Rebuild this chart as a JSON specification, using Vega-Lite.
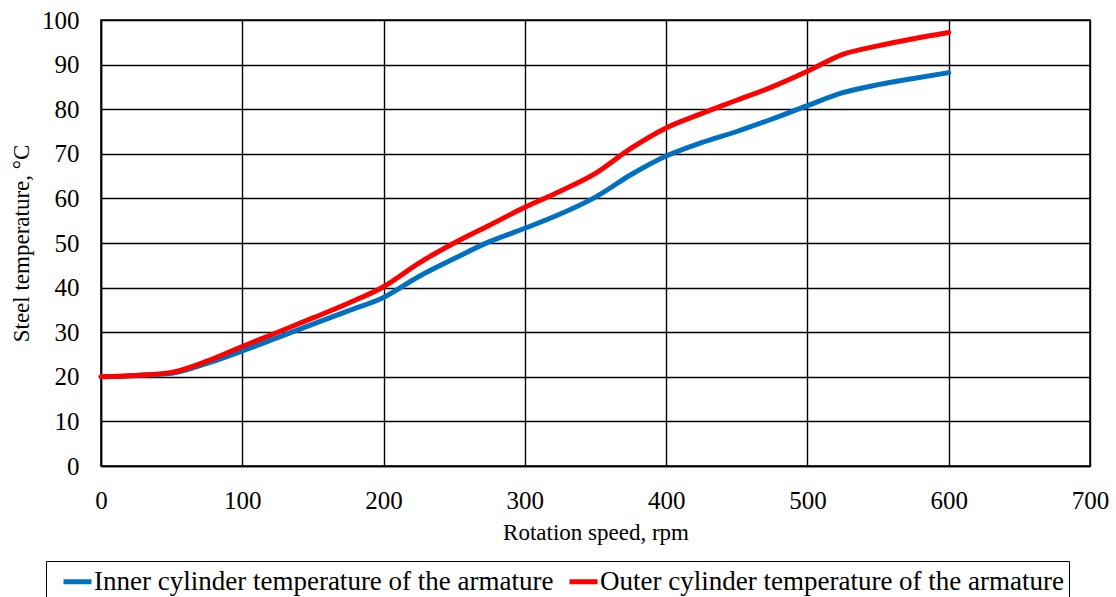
{
  "$schema": "https://vega.github.io/schema/vega-lite/v6.json",
  "width": 989,
  "height": 446,
  "autosize": {"type": "none"},
  "padding": {"left": 101, "top": 20, "right": 26, "bottom": 131},
  "background": "white",
  "config": {
    "font": "Liberation Serif",
    "view": {"stroke": "black", "strokeWidth": 1.5}
  },
  "data": {
    "values": [
      {"rpm": 0, "t": 20, "s": "Inner cylinder temperature of the armature"},
      {"rpm": 25, "t": 20.3, "s": "Inner cylinder temperature of the armature"},
      {"rpm": 50, "t": 20.8, "s": "Inner cylinder temperature of the armature"},
      {"rpm": 75, "t": 23, "s": "Inner cylinder temperature of the armature"},
      {"rpm": 100, "t": 25.8, "s": "Inner cylinder temperature of the armature"},
      {"rpm": 125, "t": 28.8, "s": "Inner cylinder temperature of the armature"},
      {"rpm": 150, "t": 31.8, "s": "Inner cylinder temperature of the armature"},
      {"rpm": 175, "t": 34.8, "s": "Inner cylinder temperature of the armature"},
      {"rpm": 200, "t": 37.8, "s": "Inner cylinder temperature of the armature"},
      {"rpm": 225, "t": 42.5, "s": "Inner cylinder temperature of the armature"},
      {"rpm": 250, "t": 46.5, "s": "Inner cylinder temperature of the armature"},
      {"rpm": 275, "t": 50.3, "s": "Inner cylinder temperature of the armature"},
      {"rpm": 300, "t": 53.3, "s": "Inner cylinder temperature of the armature"},
      {"rpm": 325, "t": 56.5, "s": "Inner cylinder temperature of the armature"},
      {"rpm": 350, "t": 60.3, "s": "Inner cylinder temperature of the armature"},
      {"rpm": 375, "t": 65.3, "s": "Inner cylinder temperature of the armature"},
      {"rpm": 400, "t": 69.5, "s": "Inner cylinder temperature of the armature"},
      {"rpm": 425, "t": 72.5, "s": "Inner cylinder temperature of the armature"},
      {"rpm": 450, "t": 75, "s": "Inner cylinder temperature of the armature"},
      {"rpm": 475, "t": 77.8, "s": "Inner cylinder temperature of the armature"},
      {"rpm": 500, "t": 80.8, "s": "Inner cylinder temperature of the armature"},
      {"rpm": 525, "t": 83.7, "s": "Inner cylinder temperature of the armature"},
      {"rpm": 550, "t": 85.5, "s": "Inner cylinder temperature of the armature"},
      {"rpm": 575, "t": 86.9, "s": "Inner cylinder temperature of the armature"},
      {"rpm": 600, "t": 88.2, "s": "Inner cylinder temperature of the armature"},
      {"rpm": 0, "t": 20, "s": "Outer cylinder temperature of the armature"},
      {"rpm": 25, "t": 20.3, "s": "Outer cylinder temperature of the armature"},
      {"rpm": 50, "t": 21, "s": "Outer cylinder temperature of the armature"},
      {"rpm": 75, "t": 23.5, "s": "Outer cylinder temperature of the armature"},
      {"rpm": 100, "t": 26.8, "s": "Outer cylinder temperature of the armature"},
      {"rpm": 125, "t": 30, "s": "Outer cylinder temperature of the armature"},
      {"rpm": 150, "t": 33.2, "s": "Outer cylinder temperature of the armature"},
      {"rpm": 175, "t": 36.5, "s": "Outer cylinder temperature of the armature"},
      {"rpm": 200, "t": 40.2, "s": "Outer cylinder temperature of the armature"},
      {"rpm": 225, "t": 45.5, "s": "Outer cylinder temperature of the armature"},
      {"rpm": 250, "t": 50, "s": "Outer cylinder temperature of the armature"},
      {"rpm": 275, "t": 54, "s": "Outer cylinder temperature of the armature"},
      {"rpm": 300, "t": 58, "s": "Outer cylinder temperature of the armature"},
      {"rpm": 325, "t": 61.6, "s": "Outer cylinder temperature of the armature"},
      {"rpm": 350, "t": 65.6, "s": "Outer cylinder temperature of the armature"},
      {"rpm": 375, "t": 71.2, "s": "Outer cylinder temperature of the armature"},
      {"rpm": 400, "t": 75.8, "s": "Outer cylinder temperature of the armature"},
      {"rpm": 425, "t": 79, "s": "Outer cylinder temperature of the armature"},
      {"rpm": 450, "t": 82, "s": "Outer cylinder temperature of the armature"},
      {"rpm": 475, "t": 85, "s": "Outer cylinder temperature of the armature"},
      {"rpm": 500, "t": 88.5, "s": "Outer cylinder temperature of the armature"},
      {"rpm": 525, "t": 92.3, "s": "Outer cylinder temperature of the armature"},
      {"rpm": 550, "t": 94.2, "s": "Outer cylinder temperature of the armature"},
      {"rpm": 575, "t": 95.8, "s": "Outer cylinder temperature of the armature"},
      {"rpm": 600, "t": 97.2, "s": "Outer cylinder temperature of the armature"}
    ]
  },
  "mark": {"type": "line", "interpolate": "monotone", "strokeWidth": 5, "strokeCap": "round"},
  "encoding": {
    "x": {
      "field": "rpm", "type": "quantitative",
      "scale": {"domain": [0, 700], "nice": false},
      "axis": {
        "values": [0, 100, 200, 300, 400, 500, 600, 700],
        "title": "Rotation speed, rpm",
        "titleFont": "Liberation Serif", "titleFontSize": 23, "titleFontWeight": "normal", "titleColor": "black", "titlePadding": 8,
        "labelFont": "Liberation Serif", "labelFontSize": 25, "labelColor": "black", "labelPadding": 22,
        "labelFlush": false, "labelOverlap": false,
        "ticks": false, "domainColor": "black", "domainWidth": 1.5,
        "grid": true, "gridColor": "black", "gridWidth": 1.4, "gridOpacity": 1
      }
    },
    "y": {
      "field": "t", "type": "quantitative",
      "scale": {"domain": [0, 100], "nice": false},
      "axis": {
        "values": [0, 10, 20, 30, 40, 50, 60, 70, 80, 90, 100],
        "title": "Steel temperature, °C",
        "titleFont": "Liberation Serif", "titleFontSize": 23, "titleFontWeight": "normal", "titleColor": "black", "titlePadding": 8,
        "labelFont": "Liberation Serif", "labelFontSize": 25, "labelColor": "black", "labelPadding": 22,
        "labelFlush": false, "labelOverlap": false,
        "ticks": false, "domainColor": "black", "domainWidth": 1.5,
        "grid": true, "gridColor": "black", "gridWidth": 1.4, "gridOpacity": 1
      }
    },
    "color": {
      "field": "s", "type": "nominal",
      "scale": {
        "domain": ["Inner cylinder temperature of the armature", "Outer cylinder temperature of the armature"],
        "range": ["#0070C0", "#FF0000"]
      },
      "legend": {
        "title": null,
        "orient": "none",
        "legendX": -55,
        "legendY": 541,
        "direction": "horizontal",
        "strokeColor": "black",
        "padding": 4,
        "symbolOffset": 11,
        "symbolType": "stroke",
        "symbolStrokeWidth": 5,
        "symbolSize": 784,
        "labelFont": "Liberation Serif",
        "labelFontSize": 27,
        "labelColor": "black",
        "labelOffset": 0,
        "columnPadding": 2,
        "labelLimit": 700
      }
    }
  }
}
